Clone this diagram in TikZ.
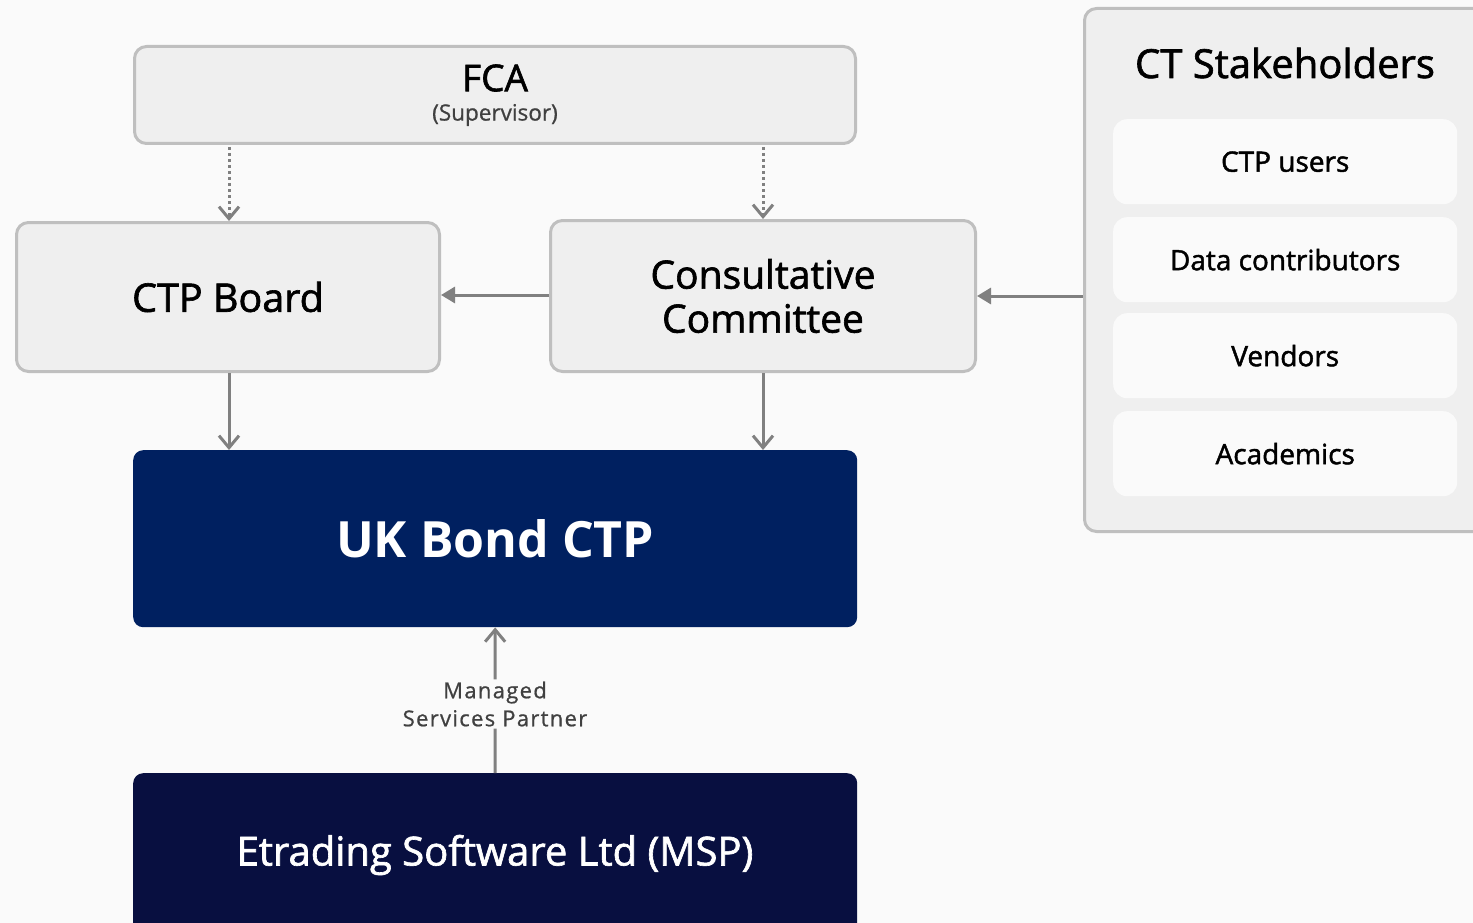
\documentclass[tikz,border=0pt]{standalone}
\usepackage{fontspec}
\setmainfont{Open Sans}
\newfontfamily\med{Open Sans}[FakeBold=1.6]
\newfontfamily\semi{Open Sans}[FakeBold=0.8]
\usetikzlibrary{arrows.meta}
\definecolor{bg}{HTML}{FAFAFA}
\definecolor{boxfill}{HTML}{EFEFEF}
\definecolor{boxline}{HTML}{BFBFBF}
\definecolor{arr}{HTML}{808080}
\definecolor{navy}{HTML}{002060}
\definecolor{darknavy}{HTML}{080F40}
\definecolor{lbl}{HTML}{404040}
\tikzset{
  graybox/.style={draw=boxline, line width=3pt, fill=boxfill, rounded corners=12pt, inner sep=0pt},
  innerbox/.style={fill=bg, rounded corners=14pt, inner sep=0pt, minimum width=344pt, minimum height=85pt, font=\med\fontsize{28}{32}\selectfont},
  conn/.style={draw=arr, line width=3pt},
  vhead/.style={-{Straight Barb[length=12pt,width=20pt,line width=3pt]}},
  thead/.style={-{Triangle[length=14pt,width=16pt]}},
}
\begin{document}
\begin{tikzpicture}[x=1pt,y=-1pt]
\useasboundingbox (0,0) rectangle (1473,923);
\clip (0,0) rectangle (1473,923);
\fill[bg] (0,0) rectangle (1473,923);

% CT stakeholders panel
\node[graybox, minimum width=420pt, minimum height=523pt, anchor=north west] (stake) at (1083,7) {};
\node[font=\med\fontsize{40}{44}\selectfont, anchor=center] (staketitle) at (1285,63) {CT Stakeholders};
\node[innerbox, anchor=north west] (users) at (1113,119) {CTP users};
\node[innerbox, anchor=north west] (data) at (1113,217) {Data contributors};
\node[innerbox, anchor=north west] (vend) at (1113,313) {Vendors};
\node[innerbox, anchor=north west] (acad) at (1113,411) {Academics};

% FCA
\node[graybox, minimum width=721pt, minimum height=97pt, anchor=north west] (fca) at (133,45) {};
\node[font=\med\fontsize{37}{40}\selectfont] (fcat) at (495,78) {FCA};
\node[font=\semi\fontsize{22.5}{26}\selectfont, text=lbl] (fcas) at (495,115) {(Supervisor)};

% CTP Board
\node[graybox, minimum width=423pt, minimum height=149pt, anchor=north west, font=\med\fontsize{39.5}{44}\selectfont] (board) at (15,221) {CTP Board};

% Consultative Committee
\node[graybox, minimum width=425pt, minimum height=151pt, anchor=north west, align=center, font=\med\fontsize{39}{46}\selectfont] (comm) at (549,219) {Consultative\\[-2pt]Committee};

% UK Bond CTP
\node[fill=navy, rounded corners=10pt, minimum width=724pt, minimum height=177pt, anchor=north west, text=white, font=\bfseries\fontsize{50}{56}\selectfont, inner sep=0pt] (ukb) at (133,450) {UK Bond CTP};

% Etrading
\node[fill=darknavy, rounded corners=10pt, minimum width=724pt, minimum height=160pt, anchor=north west, inner sep=0pt] (etr) at (133,773) {};
\node[text=white, font=\med\fontsize{40}{44}\selectfont] (etrt) at (495,855) {Etrading Software Ltd (MSP)};

% connectors
\coordinate (f1) at (229,147);
\coordinate (f2) at (763,147);
\draw[conn, vhead, dash pattern=on 3pt off 3pt] (f1) -- (board.north -| f1);
\draw[conn, vhead, dash pattern=on 3pt off 3pt] (f2) -- (comm.north -| f2);
\draw[conn, thead] (comm.west) ++(0,-1) coordinate (cw) -- (board.east |- cw);
\draw[conn, thead] (stake.west |- comm.west) ++(0,0) coordinate (sw) -- (comm.east |- sw);
\coordinate (b1) at (229,373);
\coordinate (c1) at (763,373);
\draw[conn, vhead] (b1) -- (ukb.north -| b1);
\draw[conn, vhead] (c1) -- (ukb.north -| c1);
\node[text=lbl, align=center, font=\semi\addfontfeature{LetterSpace=6}\fontsize{22}{28}\selectfont, inner sep=2pt] (msp) at (495,704) {Managed\\Services Partner};
\draw[conn] (etr.north) -- (msp.south);
\draw[conn, vhead] (msp.north) -- (ukb.south);
\end{tikzpicture}
\end{document}
